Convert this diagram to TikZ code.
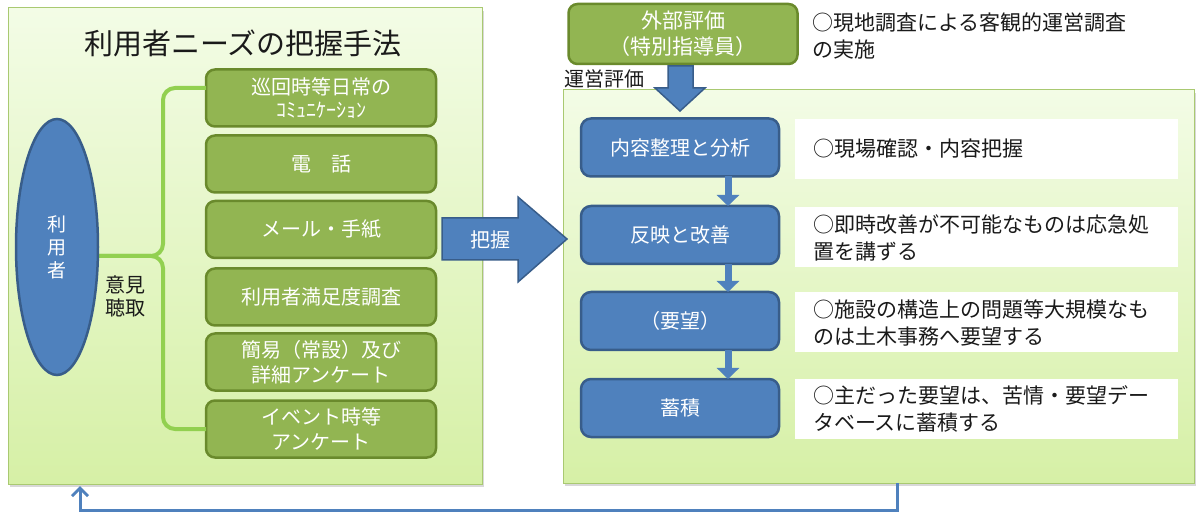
\documentclass[tikz,border=0pt]{standalone}
\usepackage{fontspec}
\newfontfamily\jp{Noto Sans CJK JP}
\usetikzlibrary{shapes.geometric,shadows,arrows.meta}
\definecolor{bluefill}{HTML}{4F81BD}
\definecolor{bluedraw}{HTML}{385D8A}
\definecolor{greenfill}{HTML}{92B552}
\definecolor{greendraw}{HTML}{6A8A2C}
\definecolor{bracegreen}{HTML}{92D050}
\definecolor{paneltop}{HTML}{F3FCE6}
\definecolor{panelbot}{HTML}{D6F0A6}
\definecolor{paneldraw}{HTML}{A9C971}
\definecolor{txt}{HTML}{1A1A1A}
\begin{document}
\begin{tikzpicture}[x=1pt,y=-1pt,
  every node/.style={font=\jp, inner sep=0pt, outer sep=0pt},
  panel/.style={rectangle, draw=paneldraw, line width=1pt, top color=paneltop, bottom color=panelbot,
    drop shadow={shadow xshift=1.5pt, shadow yshift=-3pt, opacity=0.3}},
  gbox/.style={rectangle, rounded corners=9pt, fill=greenfill, draw=greendraw, line width=2.5pt,
    minimum width=230pt, minimum height=57pt, text=white, align=center, font=\jp\fontsize{20}{25}\selectfont},
  bbox/.style={rectangle, rounded corners=10pt, fill=bluefill, draw=bluedraw, line width=2.5pt,
    minimum width=198pt, minimum height=58pt, text=white, align=center, font=\jp\fontsize{20}{25}\selectfont},
  wbox/.style={rectangle, fill=white, minimum width=383pt, minimum height=60pt},
  desc/.style={anchor=west, align=left, text=txt, font=\jp\fontsize{21}{27}\selectfont},
  plain/.style={text=txt, align=center},
  blockarrow/.style={fill=bluefill, draw=bluedraw, line width=1.5pt, line join=miter},
  flow/.style={draw=bluefill, line width=7pt, -{Triangle[width=22pt,length=11pt]}},
  brace/.style={draw=bracegreen, line width=4pt, rounded corners=12pt},
  ret/.style={draw=bluefill, line width=3pt, -{Straight Barb[length=8pt,width=16pt]}}
]
\useasboundingbox (0,0) rectangle (1199,518);
\fill[white] (0,0) rectangle (1199,518);

% panels
\node[panel, minimum width=474pt, minimum height=476pt] (lp) at (245,246) {};
\node[panel, minimum width=631pt, minimum height=393pt] (rp) at (878.5,286.5) {};

% left panel contents
\node[plain, font=\jp\fontsize{29}{32}\selectfont] (title) at (243,43) {利用者ニーズの把握手法};

\node[gbox] (g1) at (321,98) {巡回時等日常の\\[-2pt]{\fontsize{20}{22}\selectfont ｺﾐｭﾆｹｰｼｮﾝ}};
\node[gbox] (g2) at (321,164) {電　話};
\node[gbox] (g3) at (321,229.5) {メール・手紙};
\node[gbox] (g4) at (321,297) {利用者満足度調査};
\node[gbox] (g5) at (321,362) {簡易（常設）及び\\詳細アンケート};
\node[gbox] (g6) at (321,429) {イベント時等\\アンケート};

\coordinate (tip) at (99,256);
\draw[brace] ([yshift=10pt]g1.west) -| (163,256) -- (tip);
\draw[brace] (g6.west) -| (163,256) -- (tip);

\node[ellipse, fill=bluefill, draw=bluedraw, line width=2.5pt, minimum width=82pt, minimum height=256pt,
  text=white, align=center, font=\jp\fontsize{19}{23}\selectfont] (user) at (57,247) {利\\用\\者};
\node[plain, font=\jp\fontsize{20}{23}\selectfont] (iken) at (125,296) {意見\\聴取};

% grasp arrow
\draw[blockarrow] (442,218) -- (518,218) -- (518,197) -- (567,239) -- (518,282) -- (518,260) -- (442,260) -- cycle;
\node[text=white, font=\jp\fontsize{20}{24}\selectfont] (grasp) at (490,240) {把握};

% right side top
\node[gbox, minimum width=229pt, minimum height=60pt, font=\jp\fontsize{21}{26}\selectfont] (ext) at (683,34) {外部評価\\（特別指導員）};
\node[desc] (extd) at (812,36) {○現地調査による客観的運営調査\\の実施};
\node[plain, font=\jp\fontsize{20}{22}\selectfont] (unei) at (604,79) {運営評価};
\draw[blockarrow] (668,66) -- (693,66) -- (693,88) -- (705,88) -- (680,111) -- (655,88) -- (668,88) -- cycle;

% flow boxes
\node[bbox] (b1) at (680,147.5) {内容整理と分析};
\node[bbox] (b2) at (680,235) {反映と改善};
\node[bbox] (b3) at (680,321) {（要望）};
\node[bbox] (b4) at (680,408) {蓄積};

\draw[flow] ([xshift=48pt]b1.south) -- ([xshift=48pt]b2.north);
\draw[flow] ([xshift=48pt]b2.south) -- ([xshift=48pt]b3.north);
\draw[flow] ([xshift=48pt]b3.south) -- ([xshift=48pt]b4.north);

\node[wbox] (w1) at (986.5,149) {};
\node[wbox] (w2) at (986.5,237.5) {};
\node[wbox] (w3) at (986.5,322.5) {};
\node[wbox] (w4) at (986.5,409) {};
\node[desc] (d1) at ([xshift=18pt]w1.west) {○現場確認・内容把握};
\node[desc] (d2) at ([xshift=18pt]w2.west) {○即時改善が不可能なものは応急処\\置を講ずる};
\node[desc] (d3) at ([xshift=18pt]w3.west) {○施設の構造上の問題等大規模なも\\のは土木事務へ要望する};
\node[desc] (d4) at ([xshift=18pt]w4.west) {○主だった要望は、苦情・要望デー\\タベースに蓄積する};

% return line
\draw[ret] ([xshift=18.5pt]rp.south) -- ++(0,27) -| ([xshift=-165pt,yshift=-2pt]lp.south);
\end{tikzpicture}
\end{document}
